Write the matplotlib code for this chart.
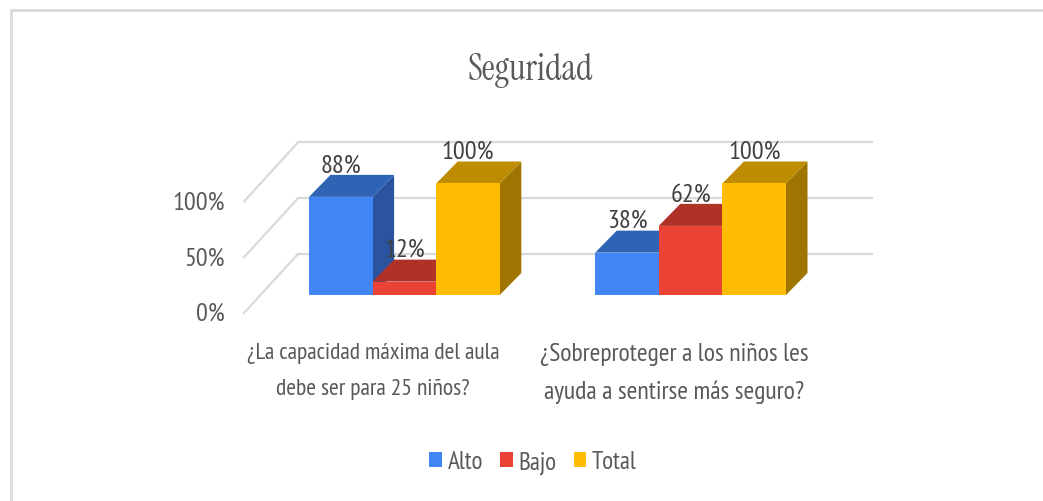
import matplotlib
matplotlib.use("Agg")
import matplotlib.pyplot as plt
from matplotlib.patches import Polygon, Patch, Rectangle
from matplotlib.transforms import ScaledTranslation

categories = ["¿La capacidad máxima del aula\ndebe ser para 25 niños?",
              "¿Sobreproteger a los niños les\nayuda a sentirse más seguro?"]
series = ["Alto", "Bajo", "Total"]
alto = [88, 38]
bajo = [12, 62]
total = [100, 100]
y_ticks = [0, 50, 100]
y_tick_labels = ["0%", "50%", "100%"]
front_colors = ["#4285F4", "#EA4335", "#FFBC00"]
top_colors = ["#2F64B5", "#AF3127", "#BD8C00"]
side_colors = ["#2A549F", "#9A2C22", "#9E7500"]

W, H = 1043, 502
BAR_PX = 63.6          # bar width in pixels
PCT_PX = 1.115         # pixels per percent
LEFT, RIGHT, BOTTOM, TOP = 244, 872, 314, 143
ORIGIN = 309
GROUP_STEP = 4.5
DX, DY = 21.5 / BAR_PX, 22 / PCT_PX
FLOOR = 18 / PCT_PX
BACK_Y, BACK_X = 59 / PCT_PX, 54 / BAR_PX
LABEL_X = [(373 - ORIGIN) / BAR_PX, (674 - ORIGIN) / BAR_PX]
LABEL_SIZES = [17, 18.5]
LABEL_SPACING = [1.92, 1.75]
TXT = "#595959"
GRID = "#D9D9D9"
NARROW = ["PT Sans Narrow", "Liberation Sans", "DejaVu Sans"]

plt.rcParams["font.family"] = NARROW
fig = plt.figure(figsize=(W / 100, H / 100), dpi=100, facecolor="white")
ax = fig.add_axes([LEFT / W, 1 - BOTTOM / H, (RIGHT - LEFT) / W, (BOTTOM - TOP) / H])
x_min = (LEFT - ORIGIN) / BAR_PX
ax.set_xlim(x_min, (RIGHT - ORIGIN) / BAR_PX)
ax.set_ylim(0, (BOTTOM - TOP) / PCT_PX)
ax.patch.set_visible(False)
for s in ax.spines.values():
    s.set_visible(False)

# frame of the screenshot
fig.add_artist(Rectangle((10 / W, -0.1), 3 / W, 1.1 - 10 / H, transform=fig.transFigure,
                         fc="#DEDEDE", ec="none"))
fig.add_artist(Rectangle((10 / W, 1 - 13 / H), 1 - 10 / W, 3 / H, transform=fig.transFigure,
                         fc="#DBDBDB", ec="none"))

# walls
for v in y_ticks:
    ax.plot([x_min, x_min + BACK_X], [v, v + BACK_Y], color=GRID, lw=1.6, zorder=1, clip_on=False)
    ax.plot([x_min + BACK_X, ax.get_xlim()[1]], [v + BACK_Y, v + BACK_Y], color=GRID, lw=1.6,
            zorder=1, clip_on=False)

# 3D bars
for g in range(len(categories)):
    values = [alto[g], bajo[g], total[g]]
    for i, v in enumerate(values):
        x0 = g * GROUP_STEP + i
        x1 = x0 + 1
        b, t = FLOOR, FLOOR + v
        z = 2 + g + i * 0.1
        ax.add_patch(Polygon([(x1, b), (x1 + DX, b + DY), (x1 + DX, t + DY), (x1, t)],
                             fc=side_colors[i], ec="none", zorder=z))
        ax.add_patch(Polygon([(x0, t), (x0 + DX, t + DY), (x1 + DX, t + DY), (x1, t)],
                             fc=top_colors[i], ec="none", zorder=z))
        ax.add_patch(Polygon([(x0, b), (x1, b), (x1, t), (x0, t)],
                             fc=front_colors[i], ec="none", zorder=z + 0.05))
        ax.text(x0 + 0.5, t + 32 / PCT_PX, f"{v}%", ha="center", va="center",
                fontsize=19, color="#404040", zorder=10)

ax.set_yticks(y_ticks, y_tick_labels)
ax.set_xticks(LABEL_X, categories)
ax.tick_params(axis="y", length=0, pad=14, labelsize=19, labelcolor=TXT)
ax.tick_params(axis="x", length=0, pad=21, labelcolor=TXT)
for lab, size, spacing in zip(ax.get_xticklabels(), LABEL_SIZES, LABEL_SPACING):
    lab.set_fontsize(size)
    lab.set_linespacing(spacing)
lift = ScaledTranslation(0, 2 / 100, fig.dpi_scale_trans)
for lab in ax.get_yticklabels():
    lab.set_transform(lab.get_transform() + lift)

fig.text(530 / W, 1 - 71 / H, "Seguridad", ha="center", va="center",
         family=["Instrument Serif", "Liberation Serif"], fontsize=26, color=TXT)

handles = [Patch(fc=c, ec="none") for c in front_colors]
fig.legend(handles, series, loc="center", bbox_to_anchor=(533 / W, 1 - 463 / H), ncols=3,
           frameon=False, fontsize=18, labelcolor=TXT, handlelength=0.5, handleheight=0.6,
           handletextpad=0.22, columnspacing=0.7)

fig.savefig("out.png", dpi=100, facecolor="white")
